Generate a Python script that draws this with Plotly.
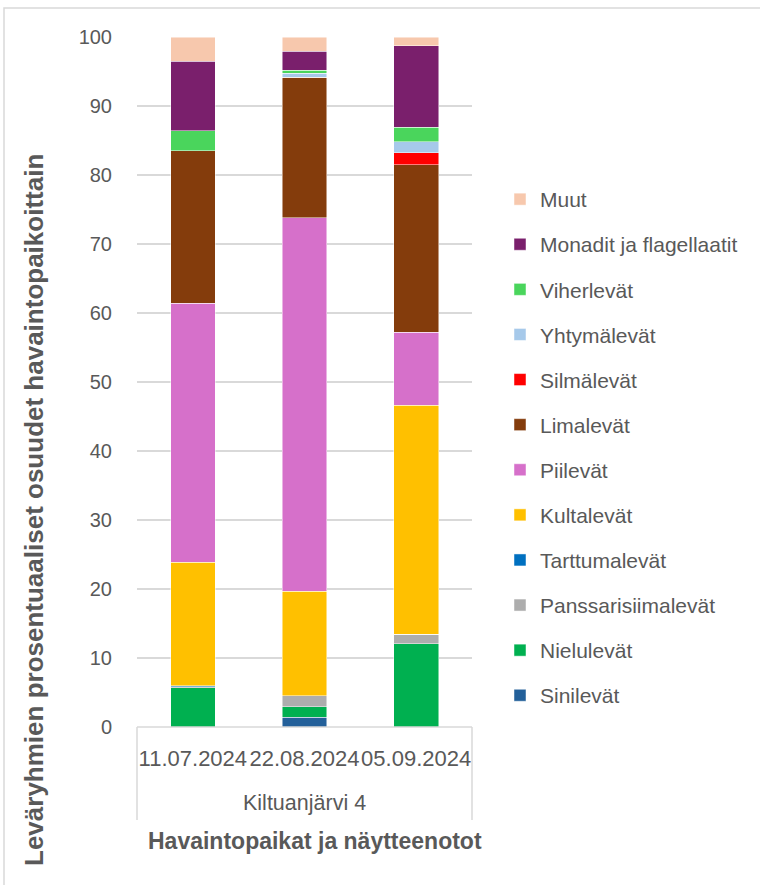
import plotly.graph_objects as go

# Näytteenottopäivät ja havaintopaikka
dates = ["11.07.2024", "22.08.2024", "05.09.2024"]
site = "Kiltuanjärvi 4"

# Leväryhmien prosentuaaliset osuudet (%), alimmasta ylimpään
groups = [
    "Sinilevät", "Nielulevät", "Panssarisiimalevät", "Tarttumalevät",
    "Kultalevät", "Piilevät", "Limalevät", "Silmälevät", "Yhtymälevät",
    "Viherlevät", "Monadit ja flagellaatit", "Muut",
]
sinilevat = [0.0, 1.45, 0.0]
nielulevat = [5.7, 1.45, 12.05]
panssarisiimalevat = [0.1, 1.6, 1.4]
tarttumalevat = [0.2, 0.0, 0.0]
kultalevat = [17.9, 15.2, 33.15]
piilevat = [37.5, 54.1, 10.6]
limalevat = [22.1, 20.4, 24.3]
silmalevat = [0.0, 0.0, 1.7]
yhtymalevat = [0.0, 0.55, 1.6]
viherlevat = [2.9, 0.45, 2.1]
monadit = [10.1, 2.7, 11.8]
muut = [3.5, 2.1, 1.3]

series = [sinilevat, nielulevat, panssarisiimalevat, tarttumalevat,
          kultalevat, piilevat, limalevat, silmalevat, yhtymalevat,
          viherlevat, monadit, muut]
colors = ["#23609A", "#00B050", "#ADADAD", "#0070C0", "#FFC000", "#D670CA",
          "#843C0C", "#FF0000", "#A6C9EA", "#4AD55C", "#7A1F6C", "#F7C8AD"]

y_ticks = list(range(0, 101, 10))

TXT = "#595959"
FONT = "Liberation Sans, Arial, sans-serif"

fig = go.Figure()
n = len(groups)
for i, (name, vals, col) in enumerate(zip(groups, series, colors)):
    fig.add_trace(go.Bar(
        x=dates, y=vals, name=name, legendgroup=name,
        legendrank=n - i,  # top segment listed first in the legend
        marker=dict(color=col, line=dict(color="rgba(255,255,255,0.6)", width=0.8)),
    ))

# plot-area geometry (px) used for the frame and the category box
L, R, T, B = 137, 288, 37, 158
W, H = 760, 885
pw, ph = W - L - R, H - T - B


def px_x(x):
    return (x - L) / pw


def px_y(y):
    return (H - B - y) / ph


shapes = [
    # outer chart frame
    dict(type="rect", xref="paper", yref="paper",
         x0=px_x(4), x1=px_x(775), y0=px_y(900), y1=px_y(8),
         line=dict(color="#D9D9D9", width=1.5), fillcolor="rgba(0,0,0,0)"),
    # category box below the axis
    dict(type="line", xref="paper", yref="paper", x0=0, x1=1, y0=0, y1=0,
         line=dict(color="#D9D9D9", width=1.5)),
    dict(type="line", xref="paper", yref="paper", x0=0, x1=0,
         y0=0, y1=px_y(820), line=dict(color="#D9D9D9", width=1.5)),
    dict(type="line", xref="paper", yref="paper", x0=1, x1=1,
         y0=0, y1=px_y(820), line=dict(color="#D9D9D9", width=1.5)),
]

annotations = [
    dict(text=site, xref="paper", yref="paper", x=0.5, y=px_y(803),
         showarrow=False, font=dict(family=FONT, size=21.5, color=TXT),
         xanchor="center", yanchor="middle"),
    dict(text="<b>Havaintopaikat ja näytteenotot</b>", xref="paper", yref="paper",
         x=px_x(315), y=px_y(841), showarrow=False,
         font=dict(family=FONT, size=23, color=TXT),
         xanchor="center", yanchor="middle"),
    dict(text="<b>Leväryhmien prosentuaaliset osuudet havaintopaikoittain</b>",
         xref="paper", yref="paper", x=px_x(34), y=px_y(510), textangle=-90,
         showarrow=False, font=dict(family=FONT, size=26, color=TXT),
         xanchor="center", yanchor="middle"),
]

fig.update_layout(
    width=W, height=H,
    margin=dict(l=L, r=R, t=T, b=B, autoexpand=False),
    barmode="stack", bargap=0.6,
    plot_bgcolor="white", paper_bgcolor="white",
    font=dict(family=FONT, color=TXT),
    shapes=shapes, annotations=annotations,
    legend=dict(
        x=px_x(500), y=px_y(179), xanchor="left", yanchor="top",
        traceorder="grouped", tracegroupgap=14.8,
        font=dict(family=FONT, size=21, color=TXT),
        itemwidth=30, bgcolor="rgba(0,0,0,0)",
    ),
    xaxis=dict(
        type="category", showgrid=False, showline=False, zeroline=False,
        ticks="", tickangle=0, tickfont=dict(family=FONT, size=22, color=TXT),
        ticklabelstandoff=16,
    ),
    yaxis=dict(
        range=[0, 100], tickvals=y_ticks, showgrid=True,
        gridcolor="#D9D9D9", gridwidth=1.5, zeroline=False, showline=False,
        ticks="", tickfont=dict(family=FONT, size=20, color=TXT),
        ticklabelstandoff=24,
    ),
)

fig.write_html("out.html")
